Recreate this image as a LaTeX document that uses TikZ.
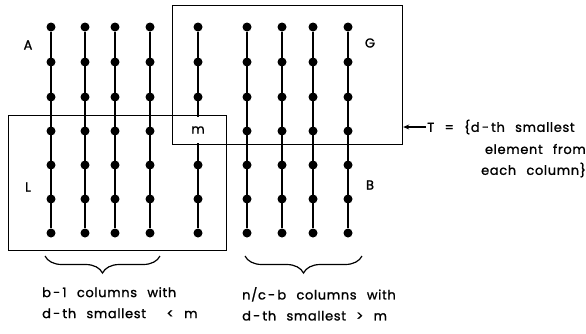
\documentclass[tikz,border=0pt]{standalone}
\usepackage{fontspec}
\usepackage{tikz}
\usetikzlibrary{arrows.meta,positioning,decorations.pathreplacing}
\newfontfamily\figfont{Poppins}[LetterSpace=5,WordSpace=2.5,FakeBold=1.2]

\begin{document}
\begin{tikzpicture}[
  x=1pt,y=-1pt,
  dot/.style={circle,fill=black,inner sep=0pt,minimum size=9pt},
  col/.style={line width=1.5pt},
  box/.style={rectangle,draw,line width=1.2pt,anchor=north west,inner sep=0pt},
  lbl/.style={font=\figfont\fontsize{13}{21}\selectfont,inner sep=1pt},
  brc/.style={decorate,decoration={brace,mirror,amplitude=17pt},line width=1.2pt},
  arr/.style={-{Stealth[length=6pt,width=5pt]},line width=1.2pt}
]
\useasboundingbox (0,0) rectangle (586,333);
\node[box,minimum width=230pt,minimum height=139pt] (gbox) at (172,5) {};
\node[box,minimum width=218pt,minimum height=135pt] (lbox) at (8,115) {};
\foreach \x [count=\i] in {51,85,115,150,198,247,282,313,348}
  \foreach \y [count=\j] in {27,62,97,131,165,199,233}
    {\ifnum\i\j=54 \else \node[dot] (d-\i-\j) at (\x,\y) {};\fi}
\node[lbl,inner sep=0pt,minimum height=26pt] (m) at (198,130) {m};
\foreach \i in {1,2,3,4,6,7,8,9}
  \draw[col] (d-\i-1) -- (d-\i-7);
\draw[col] (d-5-1) -- (m) -- (d-5-7);
\node[lbl] (la) at (28,45) {A};
\node[lbl] (lg) at (370,43) {G};
\node[lbl] (ll) at (28,187) {L};
\node[lbl] (lb) at (370,185) {B};
\node[lbl,anchor=west] (tset) at (426,127) {T = \{d\,-\,th smallest};
\node[lbl,anchor=east] (telem) at (587,149) {element from};
\node[lbl,anchor=east] (tcol) at (587,170) {each column\}};
\draw[arr] (tset.west) -- (tset.west -| gbox.east);
\draw[brc] (45,256) -- (160,256);
\draw[brc] (245,256) -- (362,256);
\node[lbl,anchor=north west,align=left] (lcols) at (41,286) {b\,-\,1 columns with\\d\,-\,th smallest \ < m};
\node[lbl,anchor=north west,align=left] (rcols) at (241,286) {n/c\,-\,b columns with\\d\,-\,th smallest > m};
\end{tikzpicture}
\end{document}
